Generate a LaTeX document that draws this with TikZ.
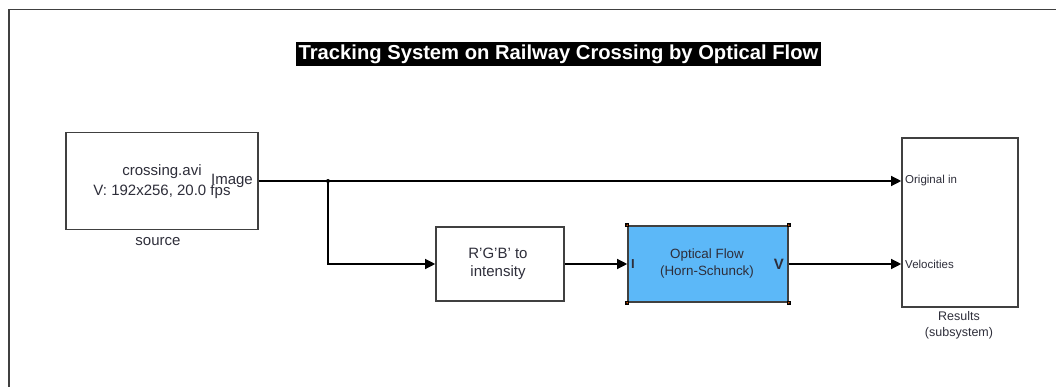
\documentclass[tikz,border=0pt]{standalone}
\usepackage{fontspec}
\setmainfont{Liberation Sans}
\usetikzlibrary{arrows.meta}
\definecolor{ofblue}{HTML}{5CB8F8}
\definecolor{txt}{HTML}{2E2E3A}
\definecolor{edge}{HTML}{404040}
\tikzset{
  blk/.style={draw=edge, line width=1.6pt, fill=white, inner sep=0pt},
  sig/.style={draw=black, line width=1.2pt, -{Triangle[length=10pt,width=10pt]}},
  wire/.style={draw=black, line width=1.2pt},
  lbl/.style={text=txt, font=\fontsize{15}{20}\selectfont, align=center, inner sep=0pt},
  small/.style={text=txt, font=\fontsize{11.5}{16}\selectfont, inner sep=0pt},
  handle/.style={fill=black, minimum size=4pt, inner sep=0pt}
}
\begin{document}
\begin{tikzpicture}[x=1pt,y=-1pt]
\useasboundingbox (0,0) rectangle (1056,387);
% frame
\draw[line width=1.4pt, draw=edge] (9,387) -- (9,9.5) -- (1056,9.5);
% title
\node[fill=black, text=white, font=\bfseries\fontsize{20.2}{22}\selectfont, minimum height=24pt, inner ysep=0pt, inner xsep=3pt] (title) at (558.5,54) {Tracking System on Railway Crossing by Optical Flow};
% source block
\node[blk, minimum width=192pt, minimum height=97pt] (src) at (162,181) {};
\node[lbl] (srct1) at (162,172) {crossing.avi};
\node[lbl] (srct2) at (162,192) {V: 192x256, 20.0 fps};
\node[lbl, anchor=east] (srcport) at (253,181) {Image};
\node[lbl] (srcname) at (158,242) {source};
% RGB block
\node[blk, minimum width=128pt, minimum height=74pt] (rgb) at (500,264) {};
\node[lbl, font=\fontsize{15}{18}\selectfont] (rgbt) at (498,264) {R\char"0027 G\char"0027 B\char"0027{} to\\intensity};
% Optical flow block
\node[blk, fill=ofblue, minimum width=160pt, minimum height=76pt] (of) at (708,264) {};
\node[lbl, font=\fontsize{13.4}{17}\selectfont] (oft) at (707,264) {Optical Flow\\(Horn-Schunck)};
\node[lbl, anchor=west, font=\bfseries\fontsize{13}{13}\selectfont] (ofin) at (631,264) {I};
\node[lbl, anchor=east, font=\bfseries\fontsize{15}{15}\selectfont] (ofout) at (784,264) {V};
\foreach \c in {north west,north east,south west,south east}{
  \node[handle] at (of.\c) {};
  \fill[orange!80!red] (of.\c) circle (0.8pt);
}
% Results block
\node[blk, minimum width=116pt, minimum height=169pt] (res) at (960,222.5) {};
\coordinate (resin1) at (res.west |- 0,181);
\coordinate (resin2) at (res.west |- 0,264);
\node[small, anchor=west] (resp1) at (905,181) {Original in};
\node[small, anchor=west] (resp2) at (905,264) {Velocities};
\node[small, align=center, font=\fontsize{12.5}{16}\selectfont] (resname) at (959,325) {Results\\(subsystem)};
% connectors
\coordinate (junc) at (328,181);
\coordinate (bend) at (328,264);
\draw[wire] (src.east |- junc) -- (junc);
\draw[sig] (junc) -- (resin1);
\draw[sig] (junc) -- (bend) -- (rgb.west);
\fill (junc) circle (2pt);
\draw[sig] (rgb.east) -- (of.west);
\draw[sig] (of.east) -- (resin2);
\end{tikzpicture}
\end{document}
